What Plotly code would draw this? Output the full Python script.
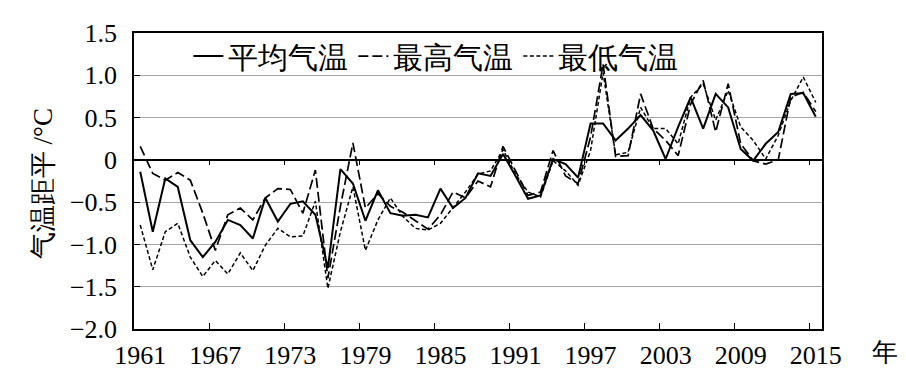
import plotly.graph_objects as go

years = list(range(1961, 2016))

mean_temp = [-0.14, -0.85, -0.22, -0.32, -0.95, -1.15, -0.97, -0.71, -0.77, -0.93,
             -0.45, -0.73, -0.52, -0.49, -0.65, -1.28, -0.11, -0.28, -0.72, -0.36,
             -0.63, -0.66, -0.65, -0.68, -0.34, -0.57, -0.45, -0.16, -0.19, 0.07,
             -0.19, -0.46, -0.42, 0.01, -0.05, -0.21, 0.43, 0.43, 0.23, 0.37,
             0.53, 0.35, 0.01, 0.39, 0.74, 0.37, 0.78, 0.62, 0.13, -0.01,
             0.19, 0.33, 0.78, 0.79, 0.51]

max_temp = [0.16, -0.16, -0.24, -0.15, -0.24, -0.63, -1.07, -0.65, -0.57, -0.71,
            -0.45, -0.34, -0.35, -0.63, -0.12, -1.40, -0.55, 0.20, -0.57, -0.40,
            -0.55, -0.62, -0.72, -0.82, -0.65, -0.38, -0.45, -0.25, -0.32, 0.16,
            -0.13, -0.42, -0.38, 0.11, -0.19, -0.28, 0.27, 1.13, 0.04, 0.05,
            0.78, 0.37, 0.23, 0.05, 0.66, 0.94, 0.33, 0.90, 0.19, -0.01,
            -0.05, 0.00, 0.74, 0.80, 0.57]

min_temp = [-0.77, -1.30, -0.85, -0.75, -1.15, -1.38, -1.19, -1.35, -1.10, -1.31,
            -1.01, -0.81, -0.91, -0.90, -0.49, -1.52, -0.85, -0.32, -1.07, -0.71,
            -0.45, -0.67, -0.81, -0.83, -0.75, -0.57, -0.38, -0.17, -0.13, 0.12,
            -0.17, -0.38, -0.44, -0.01, -0.13, -0.30, 0.11, 1.03, 0.06, 0.09,
            0.62, 0.37, 0.37, 0.19, 0.74, 0.90, 0.47, 0.82, 0.39, 0.23,
            0.01, 0.29, 0.70, 0.98, 0.68]

series_names = ["平均气温", "最高气温", "最低气温"]

x_tick_vals = [1961, 1967, 1973, 1979, 1985, 1991, 1997, 2003, 2009, 2015]
x_tick_marks = [1966.5, 1972.5, 1978.5, 1984.5, 1990.5, 1996.5, 2002.5, 2008.5, 2014.5]
y_tick_vals = [1.5, 1.0, 0.5, 0, -0.5, -1.0, -1.5, -2.0]
y_tick_text = ["1.5", "1.0", "0.5", "0", "\u22120.5", "\u22121.0", "\u22121.5", "\u22122.0"]

FONT = "Liberation Serif, Times New Roman, Times, serif"

fig = go.Figure()
fig.add_trace(go.Scatter(x=years, y=mean_temp, mode="lines", name=series_names[0],
                         line=dict(color="black", width=2)))
fig.add_trace(go.Scatter(x=years, y=max_temp, mode="lines", name=series_names[1],
                         line=dict(color="black", width=1.7, dash="10px,4px")))
fig.add_trace(go.Scatter(x=years, y=min_temp, mode="lines", name=series_names[2],
                         line=dict(color="black", width=1.5, dash="4px,2.5px")))
# helper axis on the zero line for category tick marks
fig.add_trace(go.Scatter(x=[None], y=[None], xaxis="x2", showlegend=False,
                         hoverinfo="skip", mode="lines"))

fig.update_layout(
    template="none",
    width=898, height=375,
    margin=dict(l=126, r=84, t=25, b=54),
    paper_bgcolor="white", plot_bgcolor="white",
    font=dict(family=FONT, size=26, color="black"),
    showlegend=True,
    legend=dict(orientation="h", x=0.079, y=1.01, xanchor="left", yanchor="top",
                bgcolor="rgba(0,0,0,0)", font=dict(size=30, family=FONT),
                itemwidth=30, tracegroupgap=0, borderwidth=0),
    xaxis=dict(range=[1960.5, 2015.5], tickvals=x_tick_vals, ticks="",
               showgrid=False, zeroline=False, showline=True, mirror=True,
               automargin=False,
               linecolor="black", linewidth=1.5, ticklabelstandoff=2,
               tickfont=dict(size=26, family=FONT),
               minor=dict(tickvals=x_tick_marks, ticks="inside", ticklen=6,
                          tickcolor="black", tickwidth=1, showgrid=False)),
    xaxis2=dict(range=[1960.5, 2015.5], overlaying="x", anchor="free",
                position=4 / 7, tickvals=x_tick_marks, ticks="outside", ticklen=4,
                tickcolor="black", showticklabels=False, showgrid=False,
                automargin=False, zeroline=False, showline=False),
    yaxis=dict(range=[-2.0, 1.5], tickvals=y_tick_vals, ticktext=y_tick_text,
               ticks="inside", ticklen=6, tickcolor="black", automargin=False,
               showgrid=True, gridcolor="#a6a6a6", gridwidth=1.2,
               zeroline=True, zerolinecolor="black", zerolinewidth=2.2,
               showline=True, mirror=True, linecolor="black", linewidth=1.5,
               ticklabelstandoff=10, tickfont=dict(size=26, family=FONT)),
    annotations=[
        dict(text="气温距平 /°C", xref="paper", yref="paper", x=-0.132, y=0.49,
             textangle=-90, showarrow=False, font=dict(size=27, family=FONT),
             xanchor="center", yanchor="middle"),
        dict(text="年", xref="paper", yref="paper", x=1.0916, y=-0.078,
             showarrow=False, font=dict(size=26, family=FONT),
             xanchor="center", yanchor="middle"),
    ],
)

fig.write_html("out.html")
